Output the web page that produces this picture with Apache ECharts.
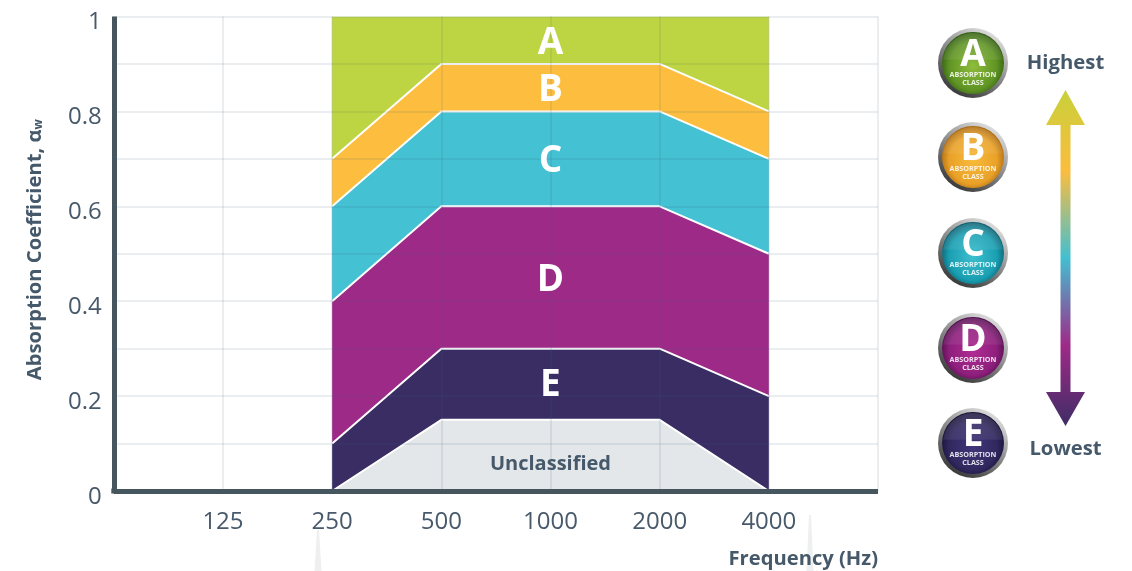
<!DOCTYPE html>
<html><head><meta charset="utf-8">
<style>html,body{margin:0;padding:0;background:#fff}#c{width:1132px;height:571px}</style>
<script src="https://cdn.jsdelivr.net/npm/echarts@6/dist/echarts.min.js"></script>
</head><body><div id="c"></div>
<script>
const categories = ['', '125', '250', '500', '1000', '2000', '4000', ' '];
const yTickLabels = ['0', '', '0.2', '', '0.4', '', '0.6', '', '0.8', '', '1'];
// band thickness at 250, 500, 1000, 2000, 4000 Hz
const unclassified = [0, 0.15, 0.15, 0.15, 0];
const classE = [0.1, 0.15, 0.15, 0.15, 0.2];
const classD = [0.3, 0.3, 0.3, 0.3, 0.3];
const classC = [0.2, 0.2, 0.2, 0.2, 0.2];
const classB = [0.1, 0.1, 0.1, 0.1, 0.1];
const classA = [0.3, 0.1, 0.1, 0.1, 0.2];
const bandNames = ['Unclassified', 'E', 'D', 'C', 'B', 'A'];
const labelLevels = [0.056, 0.222, 0.443, 0.695, 0.845, 0.943];
const bandValues = [unclassified, classE, classD, classC, classB, classA];
const bandColors = ['#e3e7e9', '#392d64', '#9e2a87', '#44c1d2', '#fdbe3f', '#bed543'];
const badgeLetters = ['A', 'B', 'C', 'D', 'E'];
const badgeCentres = [63, 157, 253, 348, 443];
const badgeColors = [
  ['#8fbc3c', '#5f9424', '#2f5a10'],
  ['#f8bb3c', '#e9a128', '#a8660c'],
  ['#3dbfcf', '#1a9fb2', '#0a5c6c'],
  ['#b02c94', '#8e1f7c', '#4e0c4c'],
  ['#41367a', '#31285f', '#181236']
];
const ink = '#47596a', inkBold = '#45596a';
const font = '"Open Sans", sans-serif';
const gridColor = 'rgba(60,100,130,0.14)';
const pad = a => [null, null, ...a, null];

const series = bandNames.map((name, i) => ({
  name, type: 'line', stack: 'bands', data: pad(bandValues[i]), symbol: 'none', silent: true,
  z: 8 - i,
  lineStyle: { color: '#fff', width: i === 5 ? 0 : 2 },
  areaStyle: { color: bandColors[i], opacity: 1 },
  emphasis: { disabled: true }
}));
series.push({
  type: 'scatter', symbolSize: 0, silent: true, z: 12,
  itemStyle: { opacity: 1 },
  data: bandNames.map((n, i) => ({ value: ['1000', labelLevels[i]], name: n })),
  label: {
    show: true, position: 'inside', formatter: p => p.name, fontFamily: font, fontWeight: 700,
    color: '#fff', fontSize: 37
  }
});
series[series.length - 1].data[0].label = { color: '#46596a', fontSize: 20 };

const graphic = [];
badgeLetters.forEach((L, i) => {
  const cy = badgeCentres[i], cx = 973, c = badgeColors[i];
  graphic.push(
    { type: 'circle', shape: { cx, cy, r: 35 }, silent: true, style: { fill: { type: 'linear', x: 0.8, y: 0, x2: 0.2, y2: 1, colorStops: [{ offset: 0, color: '#e8e8e8' }, { offset: 0.5, color: '#8a8a8a' }, { offset: 1, color: '#2e2e2e' }] } } },
    { type: 'circle', shape: { cx, cy, r: 31 }, silent: true, style: { fill: { type: 'radial', x: 0.5, y: 0.55, r: 0.55, colorStops: [{ offset: 0, color: c[0] }, { offset: 0.7, color: c[1] }, { offset: 1, color: c[2] }] } } },
    { type: 'circle', shape: { cx, cy, r: 30 }, silent: true, style: { fill: { type: 'linear', x: 0, y: 0, x2: 0, y2: 1, colorStops: [{ offset: 0, color: 'rgba(255,255,255,0.14)' }, { offset: 0.44, color: 'rgba(255,255,255,0.07)' }, { offset: 0.445, color: 'rgba(255,255,255,0)' }, { offset: 1, color: 'rgba(255,255,255,0)' }] } } },
    { type: 'text', x: cx, y: cy - 8, silent: true, style: { text: L, fill: '#fff', font: '700 37px ' + font, align: 'center', verticalAlign: 'middle' } },
    { type: 'text', x: cx, y: cy + 12, silent: true, style: { text: 'ABSORPTION', fill: 'rgba(255,255,255,0.85)', font: '700 7.2px ' + font, align: 'center', verticalAlign: 'middle' } },
    { type: 'text', x: cx, y: cy + 20, silent: true, style: { text: 'CLASS', fill: 'rgba(255,255,255,0.85)', font: '700 7.2px ' + font, align: 'center', verticalAlign: 'middle' } }
  );
});
// gradient double arrow
graphic.push({
  type: 'polygon', silent: true,
  shape: { points: [[1065.5, 90], [1085, 125], [1070.5, 125], [1070.5, 392], [1085, 392], [1065.5, 426], [1046, 392], [1060.5, 392], [1060.5, 125], [1046, 125]] },
  style: { fill: { type: 'linear', x: 0, y: 0, x2: 0, y2: 1, colorStops: [
    { offset: 0, color: '#c8d03a' }, { offset: 0.24, color: '#fbbd3f' }, { offset: 0.5, color: '#44bfd0' },
    { offset: 0.76, color: '#9e2a87' }, { offset: 1, color: '#3f2d66' }] } }
});
graphic.push(
  { type: 'text', x: 1065.5, y: 63, silent: true, style: { text: 'Highest', fill: inkBold, font: '700 20.3px ' + font, align: 'center', verticalAlign: 'middle' } },
  { type: 'text', x: 1065.5, y: 449, silent: true, style: { text: 'Lowest', fill: inkBold, font: '700 20.3px ' + font, align: 'center', verticalAlign: 'middle' } }
);
// faint light streaks under the axis
[[318, 530, 3.5], [810, 515, 3.5]].forEach(([x, y, w]) => graphic.push({
  type: 'polygon', silent: true, shape: { points: [[x - 1, y], [x + 1, y], [x + w, 571], [x - w, 571]] }, style: { fill: '#eeeff0' }
}));
// closes the corner where the two thick axis lines meet
graphic.push({ type: 'rect', silent: true, z: 100, shape: { x: 111.3, y: 488.5, width: 3, height: 5 }, style: { fill: '#46565f' } });

const chart = echarts.init(document.getElementById('c'), null, { renderer: 'canvas' });
chart.setOption({
  animation: false, backgroundColor: '#fff',
  grid: { left: 113.8, right: 254, top: 16.5, bottom: 80 },
  xAxis: {
    type: 'category', data: categories, boundaryGap: false, z: 10,
    name: 'Frequency (Hz)', nameLocation: 'end', nameGap: 0, nameMoveOverlap: false,
    nameTextStyle: { color: inkBold, fontFamily: font, fontWeight: 700, fontSize: 20.2, align: 'right', verticalAlign: 'top', padding: [58, 0, 0, 0] },
    axisLine: { lineStyle: { color: '#46565f', width: 5, cap: 'butt' } },
    axisTick: { show: false },
    axisLabel: { interval: 0, color: ink, fontFamily: font, fontSize: 24, margin: 19, hideOverlap: false },
    splitLine: { show: true, interval: 0, lineStyle: { color: gridColor, width: 1.5 } }
  },
  yAxis: {
    type: 'value', min: 0, max: 1, interval: 0.1, z: 10,
    name: 'Absorption Coefficient, α{sub|w}', nameLocation: 'middle', nameGap: 69, nameRotate: 90, nameMoveOverlap: false,
    nameTextStyle: { color: inkBold, fontFamily: font, fontWeight: 700, fontSize: 20.2, padding: [0, 0, 0, 8],
      rich: { sub: { fontSize: 12, fontWeight: 700, fontFamily: font, color: inkBold, verticalAlign: 'bottom', padding: [6, 0, 0, 0] } } },
    axisLine: { show: true, lineStyle: { color: '#46565f', width: 5, cap: 'butt' } },
    axisTick: { show: false },
    axisLabel: { color: ink, fontFamily: font, fontSize: 24, margin: 12, verticalAlign: 'top', lineHeight: 12, formatter: (v, i) => yTickLabels[i] },
    splitLine: { show: true, lineStyle: { color: gridColor, width: 1.5 } }
  },
  series, graphic
});
</script></body></html>
